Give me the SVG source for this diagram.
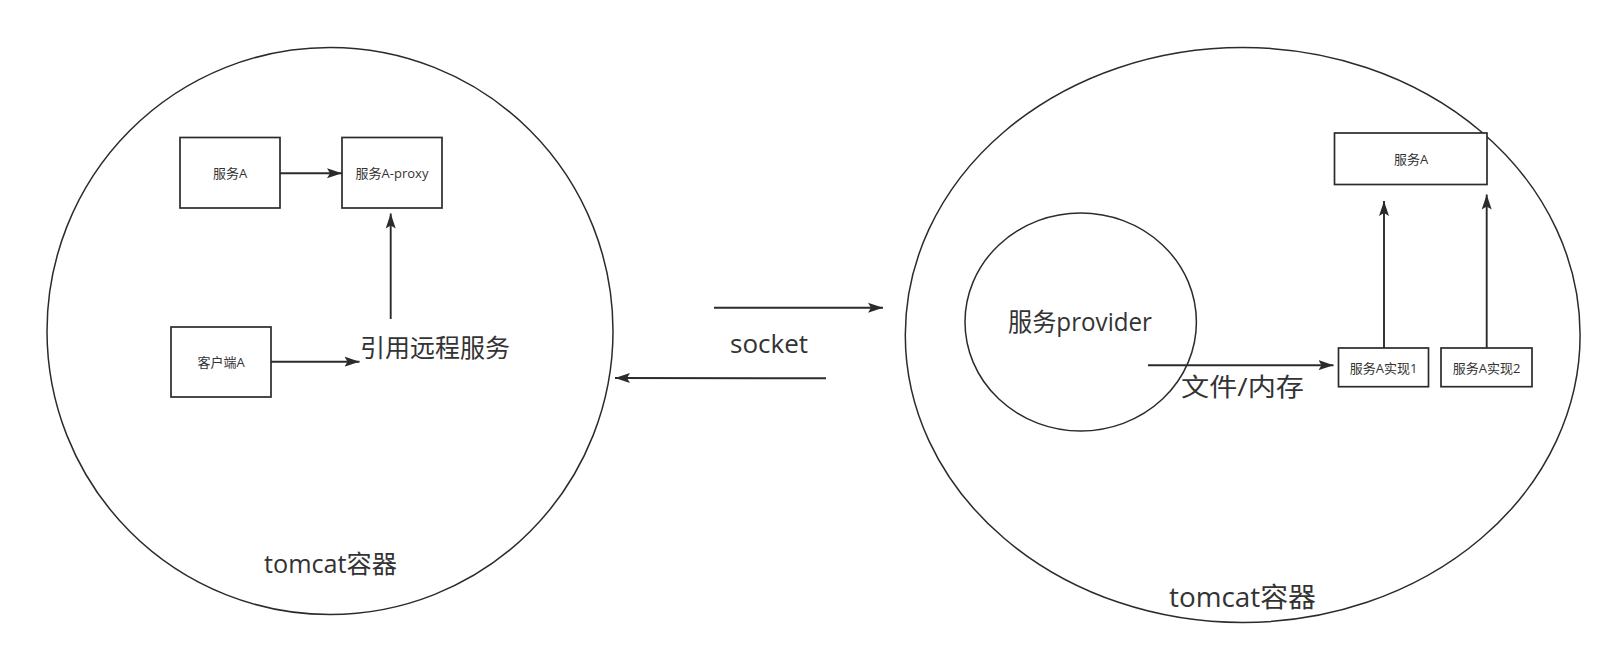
<svg xmlns="http://www.w3.org/2000/svg" width="1613" height="654" viewBox="0 0 1613 654">
<style>
.bg{fill:#ffffff}
.ell{fill:none;stroke:#2b2b2b;stroke-width:1.5}
.box{fill:#ffffff;stroke:#2b2b2b;stroke-width:1.7}
.ln{fill:none;stroke:#2b2b2b;stroke-width:1.9}
.t{font-family:"Open Sans","Noto Sans CJK SC",sans-serif;fill:#333333}
.s{font-size:13px;text-anchor:middle;dominant-baseline:central}
.L{font-size:25px;text-anchor:middle}
</style>
<defs>
<marker id="arr" viewBox="0 0 16 11" refX="15" refY="5.5" markerWidth="16" markerHeight="11" markerUnits="userSpaceOnUse" orient="auto">
<path d="M0,0.5 L15,5.5 L0,10.5 L3,5.5 Z" fill="#2b2b2b"/>
</marker>
</defs>
<rect class="bg" x="0" y="0" width="1613" height="654"/>
<g id="left-container">
<ellipse class="ell" cx="330" cy="331" rx="283" ry="283.5"/>
<text class="t L" x="330.5" y="573" textLength="133" lengthAdjust="spacingAndGlyphs">tomcat容器</text>
</g>
<g id="right-container">
<ellipse class="ell" cx="1242.7" cy="335" rx="337.4" ry="287.5"/>
<text class="t L" x="1242.5" y="607" textLength="147" lengthAdjust="spacingAndGlyphs" style="font-size:27px">tomcat容器</text>
</g>
<g id="provider">
<ellipse class="ell" cx="1080.7" cy="322" rx="115.7" ry="109"/>
<text class="t L" x="1080" y="331" textLength="144" lengthAdjust="spacingAndGlyphs">服务provider</text>
</g>
<g id="left-serviceA">
<rect class="box" x="180" y="137.5" width="100" height="70.5"/>
<text class="t s" x="230" y="173">服务A</text>
</g>
<g id="left-proxy">
<rect class="box" x="342" y="137.5" width="100" height="70.5"/>
<text class="t s" x="392" y="173">服务A-proxy</text>
</g>
<g id="left-client">
<rect class="box" x="171" y="327" width="100" height="70"/>
<text class="t s" x="221" y="362">客户端A</text>
</g>
<g id="ref-remote-label">
<text class="t L" x="435" y="357" textLength="150" lengthAdjust="spacingAndGlyphs">引用远程服务</text>
</g>
<g id="right-serviceA">
<rect class="box" x="1334.5" y="133" width="152.5" height="51.5"/>
<text class="t s" x="1411" y="159">服务A</text>
</g>
<g id="impl1">
<rect class="box" x="1338.5" y="348" width="90" height="38.7"/>
<text class="t s" x="1383.5" y="367.5">服务A实现1</text>
</g>
<g id="impl2">
<rect class="box" x="1441" y="348" width="91" height="38.7"/>
<text class="t s" x="1486.5" y="367.5">服务A实现2</text>
</g>
<g id="connectors">
<line class="ln" x1="280" y1="173.3" x2="342" y2="173.3" marker-end="url(#arr)"/>
<line class="ln" x1="271" y1="361.7" x2="359.5" y2="361.7" marker-end="url(#arr)"/>
<line class="ln" x1="390.7" y1="319" x2="390.7" y2="213.5" marker-end="url(#arr)"/>
<line class="ln" x1="714" y1="307.7" x2="883" y2="307.7" marker-end="url(#arr)"/>
<line class="ln" x1="826" y1="378.3" x2="615" y2="378" marker-end="url(#arr)"/>
<line class="ln" x1="1148" y1="365.2" x2="1333.5" y2="365.2" marker-end="url(#arr)"/>
<line class="ln" x1="1384" y1="348" x2="1384" y2="201" marker-end="url(#arr)"/>
<line class="ln" x1="1486.7" y1="348" x2="1486.7" y2="194.5" marker-end="url(#arr)"/>
<text class="t L" x="769" y="353" textLength="78" lengthAdjust="spacingAndGlyphs">socket</text>
<text class="t L" x="1242.5" y="396" textLength="123" lengthAdjust="spacingAndGlyphs">文件/内存</text>
</g>
</svg>
